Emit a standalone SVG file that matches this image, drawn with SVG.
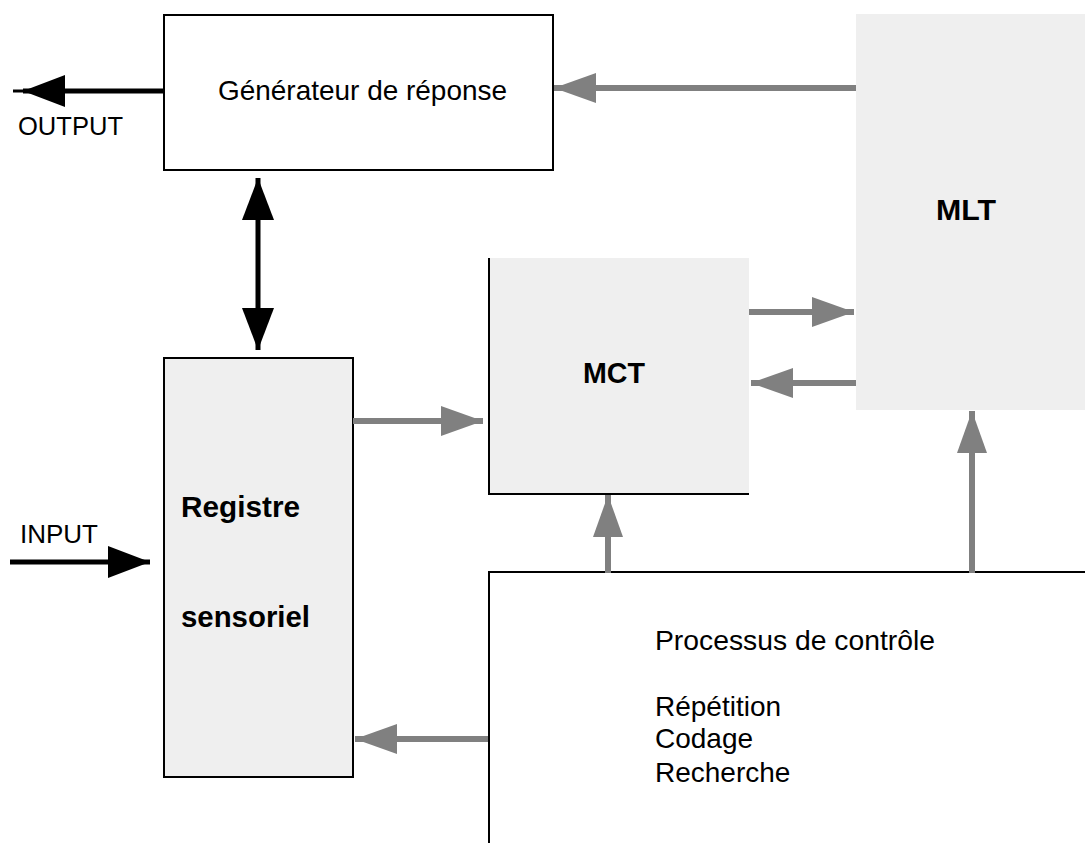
<svg xmlns="http://www.w3.org/2000/svg" width="1085" height="843" viewBox="0 0 1085 843">
  <style>
    .box { stroke: #000; stroke-width: 2; }
    .label { font-family: "Liberation Sans", Arial, sans-serif; font-size: 28px; fill: #000; }
    .io { font-family: "Liberation Sans", Arial, sans-serif; font-size: 26px; fill: #000; }
    .bold { font-family: "Liberation Sans", Arial, sans-serif; font-size: 29px; font-weight: bold; fill: #000; }
    .gray { stroke: #808080; stroke-width: 6; fill: none; }
    .black { stroke: #000; stroke-width: 5; fill: none; }
  </style>
  <defs>
    <marker id="headGray" markerUnits="userSpaceOnUse" markerWidth="44" markerHeight="32" viewBox="0 0 44 32" refX="42" refY="16" orient="auto">
      <path d="M0,1 L42,16 L0,31 Z" fill="#808080"/>
    </marker>
    <marker id="headBlack" markerUnits="userSpaceOnUse" markerWidth="44" markerHeight="34" viewBox="0 0 44 34" refX="42" refY="17" orient="auto-start-reverse">
      <path d="M0,1 L42,17 L0,33 Z" fill="#000"/>
    </marker>
  </defs>

  <rect width="1085" height="843" fill="#fff"/>

  <!-- Response generator -->
  <g id="generateur">
    <rect x="164" y="15" width="389" height="155" fill="#fff" class="box"/>
    <text x="218" y="100" class="label" textLength="289" lengthAdjust="spacingAndGlyphs">Générateur de réponse</text>
  </g>

  <!-- Long-term memory -->
  <g id="mlt">
    <rect x="856" y="14" width="229" height="396" fill="#efefef"/>
    <text x="936" y="220" class="bold" textLength="60" lengthAdjust="spacingAndGlyphs">MLT</text>
  </g>

  <!-- Short-term memory -->
  <g id="mct">
    <rect x="489" y="258" width="260" height="236" fill="#efefef"/>
    <path d="M489,258 V494 H749" fill="none" class="box"/>
    <text x="583" y="383" class="bold" textLength="62" lengthAdjust="spacingAndGlyphs">MCT</text>
  </g>

  <!-- Sensory register -->
  <g id="registre">
    <rect x="164" y="358" width="189" height="419" fill="#efefef" class="box"/>
    <text x="181" y="517" class="bold" textLength="119" lengthAdjust="spacingAndGlyphs">Registre</text>
    <text x="181" y="627" class="bold" textLength="129" lengthAdjust="spacingAndGlyphs">sensoriel</text>
  </g>

  <!-- Control processes -->
  <g id="processus">
    <path d="M489,843 V572 H1085" fill="none" class="box"/>
    <text x="655" y="650" class="label" textLength="280" lengthAdjust="spacingAndGlyphs">Processus de contrôle</text>
    <text x="655" y="716" class="label">Répétition</text>
    <text x="655" y="748" class="label">Codage</text>
    <text x="655" y="782" class="label">Recherche</text>
  </g>

  <!-- Input / output labels -->
  <g id="io">
    <text x="18" y="135" class="io" textLength="105" lengthAdjust="spacingAndGlyphs">OUTPUT</text>
    <text x="20" y="543" class="io" textLength="78" lengthAdjust="spacingAndGlyphs">INPUT</text>
  </g>

  <!-- Connectors -->
  <g id="connectors">
    <path d="M163,91 H23" class="black" stroke-width="7" marker-end="url(#headBlack)"/>
    <path d="M30,91 H13" stroke="#000" stroke-width="3"/>
    <path d="M10,562 H150" class="black" stroke-width="4" marker-end="url(#headBlack)"/>
    <path d="M258,178 V350" class="black" marker-start="url(#headBlack)" marker-end="url(#headBlack)"/>
    <path d="M856,88 H554" class="gray" marker-end="url(#headGray)"/>
    <path d="M749,312 H854" class="gray" marker-end="url(#headGray)"/>
    <path d="M856,383 H751" class="gray" marker-end="url(#headGray)"/>
    <path d="M353,421 H483" class="gray" marker-end="url(#headGray)"/>
    <path d="M608,573 V495" class="gray" marker-end="url(#headGray)"/>
    <path d="M972,573 V411" class="gray" marker-end="url(#headGray)"/>
    <path d="M488,739 H355" class="gray" marker-end="url(#headGray)"/>
  </g>
</svg>
